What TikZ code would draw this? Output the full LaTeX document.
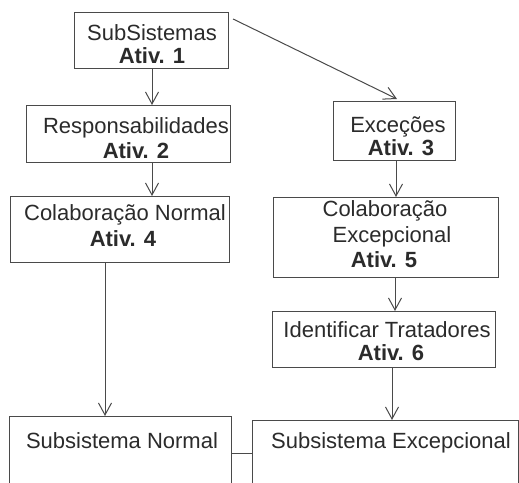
\documentclass[tikz,border=0pt]{standalone}
\usepackage{fontspec}
\setmainfont{Liberation Sans}
\usetikzlibrary{arrows.meta,calc}
\definecolor{ink}{HTML}{2B2B2B}
\definecolor{edge}{HTML}{4A4A4A}
\tikzset{
  box/.style={draw=edge, line width=1.1pt, fill=white, inner sep=0pt, anchor=north west},
  lbl/.style={anchor=base, inner sep=0pt, text=ink, font=\fontsize{22}{24}\selectfont},
  blbl/.style={lbl, font=\fontsize{22}{24}\selectfont\bfseries},
  arr/.style={draw=edge, line width=1pt, -{Straight Barb[length=12pt, width=13pt, line width=1pt]}},
  link/.style={draw=edge, line width=1pt}
}
\begin{document}
\begin{tikzpicture}[x=1pt, y=-1pt]
\clip (0,0) rectangle (519,482);
\fill[white] (0,0) rectangle (519,482);
% boxes
\node[box, minimum width=154pt, minimum height=56pt] (b1) at (74,12) {};
\node[box, minimum width=204pt, minimum height=57pt] (b2) at (26,105) {};
\node[box, minimum width=122pt, minimum height=59pt] (b3) at (333,101) {};
\node[box, minimum width=219pt, minimum height=66pt] (b4) at (10,196) {};
\node[box, minimum width=225pt, minimum height=80pt] (b5) at (273,197) {};
\node[box, minimum width=223pt, minimum height=56pt] (b6) at (272,311) {};
\node[box, minimum width=222pt, minimum height=90pt] (b7) at (9,416) {};
\node[box, minimum width=266pt, minimum height=90pt] (b8) at (252,420) {};
% texts
\node[lbl]  (t1a) at (152,40)  {SubSistemas};
\node[blbl] (t1b) at (152,63)  {Ativ. 1};
\node[lbl]  (t2a) at (136,133) {Responsabilidades};
\node[blbl] (t2b) at (136,158) {Ativ. 2};
\node[lbl]  (t3a) at (398,132) {Exceções};
\node[blbl] (t3b) at (401,155) {Ativ. 3};
\node[lbl]  (t4a) at (125,220) {Colaboração Normal};
\node[blbl] (t4b) at (123,246) {Ativ. 4};
\node[lbl]  (t5a) at (385,216) {Colaboração};
\node[lbl]  (t5b) at (392,242) {Excepcional};
\node[blbl] (t5c) at (384,267) {Ativ. 5};
\node[lbl]  (t6a) at (387,337) {Identificar Tratadores};
\node[blbl] (t6b) at (391,360) {Ativ. 6};
\node[lbl]  (t7a) at (122,448) {Subsistema Normal};
\node[lbl]  (t8a) at (391,448) {Subsistema Excepcional};
% connector anchors
\coordinate (s1) at ($(b1.south west)+(78,0)$);
\coordinate (s1r) at ($(b1.north east)+(4,7)$);
\coordinate (e3) at ($(b3.north west)+(64,-2)$);
\coordinate (s2) at ($(b2.south west)+(126,0)$);
\coordinate (s3) at ($(b3.south west)+(63,0)$);
\coordinate (s4) at ($(b4.south west)+(95,0)$);
\coordinate (s5) at ($(b5.south west)+(122,0)$);
\coordinate (s6) at ($(b6.south west)+(120,0)$);
\coordinate (s7) at ($(b7.north east)+(0,37)$);
% connectors
\draw[arr] (s1) -- (s1 |- b2.north);
\draw[arr] (s1r) -- (e3);
\draw[arr] (s2) -- (s2 |- b4.north);
\draw[arr] (s3) -- (s3 |- b5.north);
\draw[arr] (s5) -- (s5 |- b6.north);
\draw[arr] (s4) -- (s4 |- b7.north);
\draw[arr] (s6) -- (s6 |- b8.north);
\draw[link] (s7) -- (s7 -| b8.west);
\end{tikzpicture}
\end{document}
